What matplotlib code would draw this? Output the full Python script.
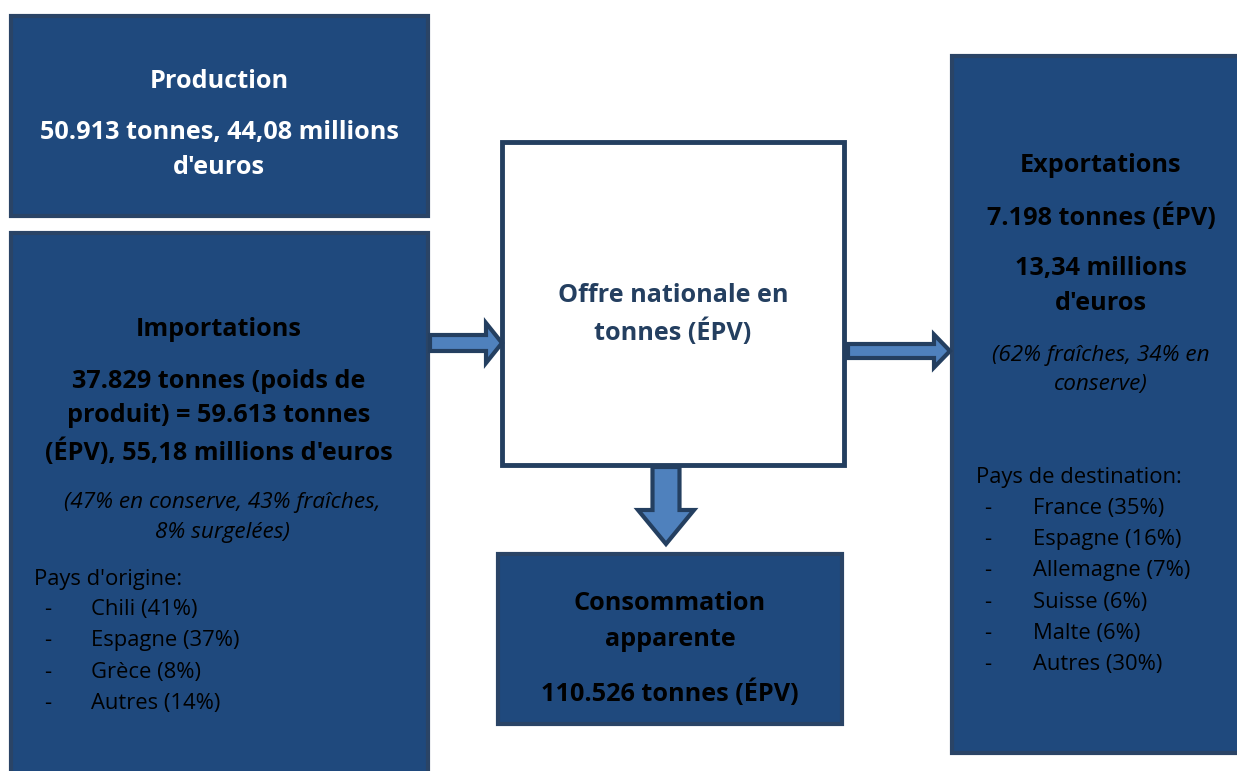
import matplotlib
matplotlib.use("Agg")
import matplotlib.pyplot as plt
from matplotlib.patches import Rectangle, FancyArrow

W, H = 1237, 771
FILL = "#1F497D"
EDGE = "#2A4466"
ARROW_FILL = "#4F81BD"
ARROW_EDGE = "#243F60"
CENTER_TXT = "#243F60"
FONT = "Open Sans"

production_lines = ["Production", "50.913 tonnes, 44,08 millions", "d'euros"]
import_title = "Importations"
import_lines = ["37.829 tonnes (poids de", "produit) = 59.613 tonnes", "(ÉPV), 55,18 millions d'euros"]
import_italic = ["(47% en conserve, 43% fraîches,", "8% surgelées)"]
origin_header = "Pays d'origine:"
origin_countries = ["Chili", "Espagne", "Grèce", "Autres"]
origin_shares = [41, 37, 8, 14]
center_lines = ["Offre nationale en", "tonnes (ÉPV)"]
conso_lines = ["Consommation", "apparente", "110.526 tonnes (ÉPV)"]
export_title = "Exportations"
export_lines = ["7.198 tonnes (ÉPV)", "13,34 millions", "d'euros"]
export_italic = ["(62% fraîches, 34% en", "conserve)"]
dest_header = "Pays de destination:"
dest_countries = ["France", "Espagne", "Allemagne", "Suisse", "Malte", "Autres"]
dest_shares = [35, 16, 7, 6, 6, 30]

fig = plt.figure(figsize=(W / 100, H / 100), dpi=100)
ax = fig.add_axes([0, 0, 1, 1])
ax.set_xlim(0, W)
ax.set_ylim(H, 0)
ax.axis("off")


def box(x0, y0, x1, y1, face=FILL, edge=EDGE, lw=3):
    ax.add_patch(Rectangle((x0, y0), x1 - x0, y1 - y0, facecolor=face,
                           edgecolor=edge, linewidth=lw, clip_on=False, zorder=1))


box(11, 16, 428, 216)
box(11, 233, 428, 790)
box(502, 142, 844, 465, face="white", edge=CENTER_TXT, lw=3.5)
box(498, 554, 842, 724)
box(952, 56, 1250, 753)

# arrows
def arrow(x, y, dx, dy, width, hw, hl):
    ax.add_patch(FancyArrow(x, y, dx, dy, width=width, head_width=hw, head_length=hl,
                            length_includes_head=True, facecolor=ARROW_FILL,
                            edgecolor=ARROW_EDGE, linewidth=3, zorder=3))

arrow(430, 343, 72, 0, 16, 40, 16)
arrow(848, 351, 102, 0, 14, 33, 16)
arrow(666, 467, 0, 77, 27, 56, 34)

BOLD = dict(family=FONT, fontweight="bold", fontsize=18.2, ha="center", va="center_baseline")
REG = dict(family=FONT, fontsize=15.8, va="center_baseline")
ITAL = dict(family=FONT, fontstyle="italic", fontsize=16.2, ha="center", va="center_baseline")

# production
for txt, y in zip(production_lines, [79, 130, 165]):
    ax.text(219, y, txt, color="white", **BOLD)

# importations
ax.text(219, 327, import_title, color="black", **BOLD)
for txt, y in zip(import_lines, [378, 413, 449]):
    ax.text(219, y, txt, color="black", **BOLD)
for txt, y in zip(import_italic, [500, 530]):
    ax.text(222, y, txt, color="black", **ITAL)
ax.text(34, 577, origin_header, color="black", ha="left", **REG)
for i, (c, s) in enumerate(zip(origin_countries, origin_shares)):
    y = 607 + i * 31.3
    ax.text(44, y, "-", color="black", ha="left", **REG)
    ax.text(91, y, f"{c} ({s}%)", color="black", ha="left", **REG)

# center
for txt, y in zip(center_lines, [293, 329]):
    ax.text(673, y, txt, color=CENTER_TXT, **BOLD)

# consommation
for txt, y in zip(conso_lines, [601, 637, 690]):
    ax.text(670, y, txt, color="black", **BOLD)

# exportations
ax.text(1101, 163, export_title, color="black", **BOLD)
for txt, y in zip(export_lines, [214, 266, 301]):
    ax.text(1101, y, txt, color="black", **BOLD)
for txt, y in zip(export_italic, [353, 382]):
    ax.text(1101, y, txt, color="black", **ITAL)
ax.text(976, 475, dest_header, color="black", ha="left", **REG)
for i, (c, s) in enumerate(zip(dest_countries, dest_shares)):
    y = 506 + i * 31.2
    ax.text(984, y, "-", color="black", ha="left", **REG)
    ax.text(1033, y, f"{c} ({s}%)", color="black", ha="left", **REG)

fig.savefig("out.png", dpi=100, facecolor="white")
